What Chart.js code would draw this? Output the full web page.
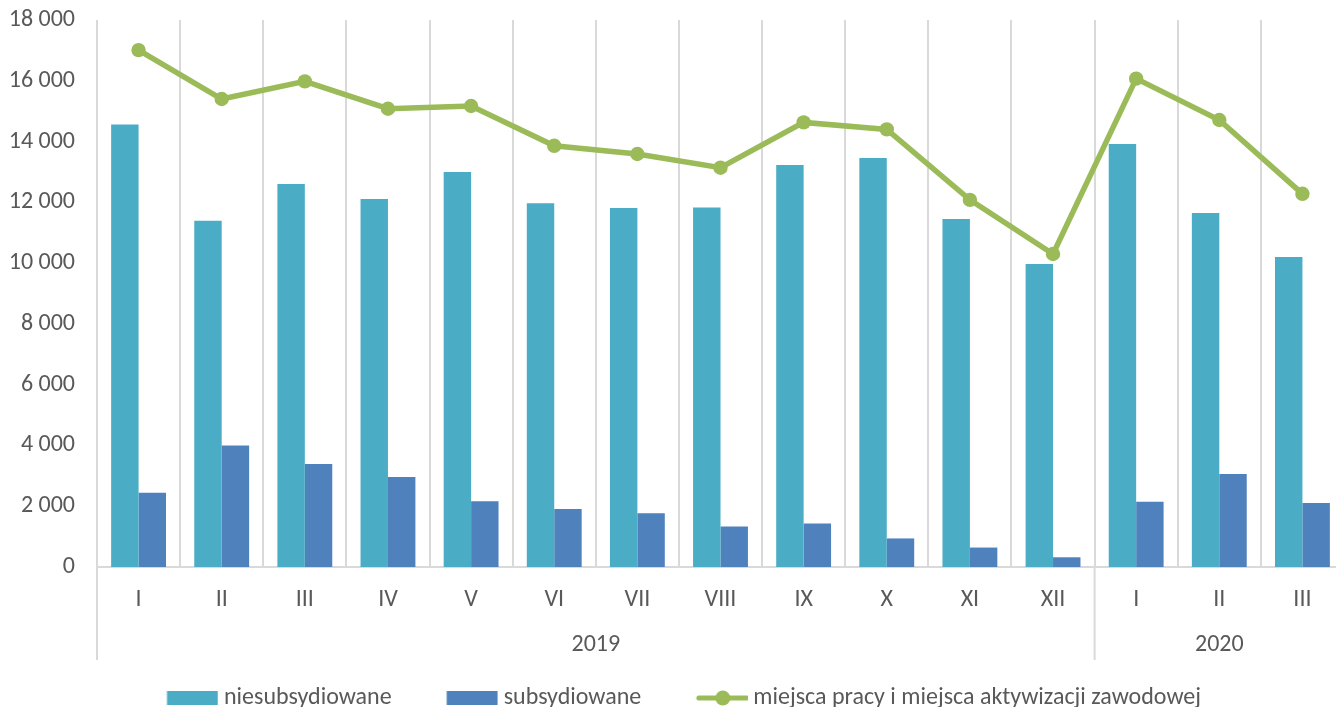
<!DOCTYPE html>
<html lang="pl">
<head>
<meta charset="utf-8">
<script src="https://cdn.jsdelivr.net/npm/chart.js@4.4.1/dist/chart.umd.min.js"></script>
<style>
  html, body { margin: 0; padding: 0; overflow: hidden; background: #fff; }
  /* the plot runs a few px past the right edge of the window, like the original */
  #wrap { position: absolute; left: 0; top: 0; width: 1344px; height: 707px; }
</style>
</head>
<body>
<div id="wrap"><canvas id="jobsChart"></canvas></div>
<script>
/* globals Chart:false */
(() => {
  'use strict'

  // Data
  const months = ['I', 'II', 'III', 'IV', 'V', 'VI', 'VII', 'VIII', 'IX', 'X', 'XI', 'XII', 'I', 'II', 'III']
  const years = ['2019', '2020']
  const yearSpans = [12, 3]
  const unsubsidised = [14560, 11390, 12600, 12110, 13000, 11970, 11810, 11830, 13230, 13460, 11450, 9970, 13920, 11650, 10200]
  const subsidised = [2440, 4000, 3390, 2960, 2160, 1910, 1770, 1330, 1430, 940, 640, 320, 2150, 3060, 2110]
  const allPlaces = [17010, 15400, 15980, 15080, 15170, 13860, 13590, 13140, 14630, 14400, 12080, 10300, 16070, 14710, 12280]
  const seriesNames = ['niesubsydiowane', 'subsydiowane', 'miejsca pracy i miejsca aktywizacji zawodowej']

  const TEAL = '#4BACC6'
  const BLUE = '#4F81BD'
  const GREEN = '#9BBB59'
  const GRID = '#D9D9D9'
  const TEXT = '#595959'
  const FONT = 'Carlito, Lato, sans-serif'
  const FONT_SIZE = 24
  const MARK_W = 58 // legend marker canvas, content drawn from 6.5 to 57.5
  const MARK_BOX = 45 // pointStyleWidth

  // legend markers
  function boxMarker (color) {
    const c = document.createElement('canvas')
    c.width = MARK_W
    c.height = 14
    const g = c.getContext('2d')
    g.fillStyle = color
    g.fillRect(6.5, 0, 51, 14)
    return c
  }
  function lineMarker (color) {
    const c = document.createElement('canvas')
    c.width = MARK_W
    c.height = 16
    const g = c.getContext('2d')
    g.strokeStyle = color
    g.lineWidth = 5
    g.lineCap = 'round'
    g.beginPath()
    g.moveTo(9, 8)
    g.lineTo(57, 8)
    g.stroke()
    g.fillStyle = color
    g.beginPath()
    g.arc(33, 8, 7.5, 0, Math.PI * 2)
    g.fill()
    return c
  }
  const markers = [boxMarker(TEAL), boxMarker(BLUE), lineMarker(GREEN)]

  const thousands = v => String(v).replace(/\B(?=(\d{3})+(?!\d))/g, ' ')

  // year row under the month labels
  const yearRow = {
    id: 'yearRow',
    afterLayout (chart) {
      // legend sits a bit right of centre in the original
      chart.legend.left += 12
      chart.legend.right += 12
    },
    afterDraw (chart) {
      const x = chart.scales.x
      const ctx = chart.ctx
      const step = x.getPixelForValue(1) - x.getPixelForValue(0)
      let start = 0
      ctx.save()
      ctx.strokeStyle = GRID
      ctx.lineWidth = 2
      ctx.fillStyle = TEXT
      ctx.font = FONT_SIZE + 'px ' + FONT
      ctx.textAlign = 'center'
      ctx.textBaseline = 'middle'
      years.forEach((label, i) => {
        const left = x.getPixelForValue(start) - step / 2
        const right = x.getPixelForValue(start + yearSpans[i] - 1) + step / 2
        ctx.beginPath()
        ctx.moveTo(left, x.top)
        ctx.lineTo(left, x.top + 93)
        ctx.stroke()
        ctx.fillText(label, (left + right) / 2, x.top + 78)
        start += yearSpans[i]
      })
      ctx.restore()
    }
  }

  const ctx = document.getElementById('jobsChart')
  // eslint-disable-next-line no-unused-vars
  const jobsChart = new Chart(ctx, {
    type: 'bar',
    data: {
      labels: months,
      datasets: [{
        label: seriesNames[0],
        data: unsubsidised,
        backgroundColor: TEAL,
        barPercentage: 1,
        categoryPercentage: 0.66
      }, {
        label: seriesNames[1],
        data: subsidised,
        backgroundColor: BLUE,
        barPercentage: 1,
        categoryPercentage: 0.66
      }, {
        type: 'line',
        label: seriesNames[2],
        data: allPlaces,
        order: -1,
        borderColor: GREEN,
        backgroundColor: GREEN,
        borderWidth: 5.5,
        lineTension: 0,
        pointRadius: 7.2,
        pointBorderWidth: 0,
        pointBackgroundColor: GREEN
      }]
    },
    options: {
      responsive: true,
      maintainAspectRatio: false,
      animation: false,
      devicePixelRatio: 1,
      layout: {
        autoPadding: false,
        padding: { top: 20, left: 0, right: 0, bottom: -13 }
      },
      font: { family: FONT, size: FONT_SIZE },
      scales: {
        x: {
          grid: { offset: true, color: GRID, lineWidth: 2, drawTicks: false },
          border: { color: GRID, width: 2 },
          ticks: { color: TEXT, padding: 19, font: { family: FONT, size: FONT_SIZE }, maxRotation: 0, autoSkip: false },
          afterFit (scale) { scale.height = 64 }
        },
        y: {
          min: 0,
          max: 18000,
          grid: { display: false, drawTicks: false },
          border: { display: false },
          ticks: {
            stepSize: 2000,
            color: TEXT,
            padding: 22,
            font: { family: FONT, size: FONT_SIZE },
            callback: v => thousands(v)
          },
          afterFit (scale) {
            scale.width = 97
            scale.paddingTop = 0
            scale.paddingBottom = 0
          }
        }
      },
      plugins: {
        legend: {
          position: 'bottom',
          labels: {
            usePointStyle: true,
            pointStyleWidth: MARK_BOX,
            padding: 55,
            color: TEXT,
            font: { family: FONT, size: FONT_SIZE },
            generateLabels: () => seriesNames.map((text, i) => ({
              text,
              pointStyle: markers[i],
              fillStyle: 'transparent',
              strokeStyle: 'transparent',
              lineWidth: 0,
              fontColor: TEXT,
              datasetIndex: i
            }))
          }
        },
        tooltip: { boxPadding: 3 }
      }
    },
    plugins: [yearRow]
  })
})()
</script>
</body>
</html>
